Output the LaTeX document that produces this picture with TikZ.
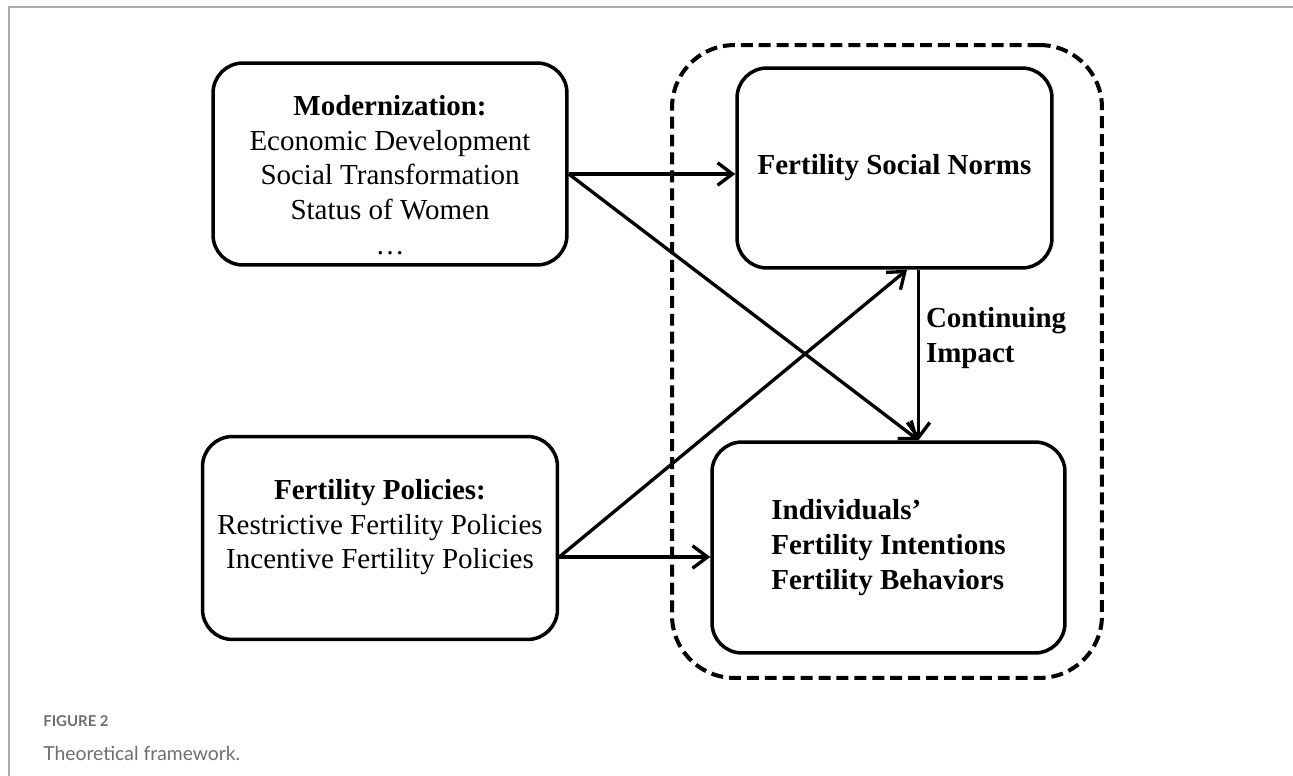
\documentclass[tikz,border=0pt]{standalone}
\usepackage{fontspec}
\setmainfont{Liberation Serif}
\newfontfamily\capfont{Lato}
\usetikzlibrary{arrows.meta}

\definecolor{capgray}{RGB}{110,110,110}
\definecolor{framegray}{RGB}{170,170,170}

\tikzset{
	block/.style = {draw, line width=2pt, rounded corners=0.6cm, align=center, font=\fontsize{16.5}{19.8}\selectfont},
	group/.style = {draw, line width=2.3pt, dash pattern=on 6.8pt off 3.4pt, rounded corners=1.25cm},
	arr/.style = {line width=1.9pt, -{Straight Barb[length=0.3cm, width=0.45cm]}},
}

\begin{document}
\begin{tikzpicture}[x=0.02cm, y=-0.02cm]
		\useasboundingbox (0,0) rectangle (1293,776);
		\draw[framegray, line width=1.2pt] (9,776) -- (9,7) -- (1293,7);

		% boxes
		\node[block, minimum width=7.08cm, minimum height=4.04cm] (modern) at (390,164) {\rule{0pt}{1.45em}\textbf{Modernization:}\\Economic Development\\Social Transformation\\Status of Women\\…};
		\node[block, minimum width=7.1cm, minimum height=4.06cm] (policy) at (380,538) {\textbf{Fertility Policies:}\\Restrictive Fertility Policies\\Incentive Fertility Policies\\[-4pt]\mbox{}};
		\node[block, minimum width=6.3cm, minimum height=4cm] (norms) at (894.5,168) {\textbf{Fertility Social Norms}};
		\node[block, align=left, minimum width=7.06cm, minimum height=4.22cm] (indiv) at (888.5,547.5) {\textbf{Individuals’}\\\textbf{Fertility Intentions}\\\textbf{Fertility Behaviors}};
		\node[group, minimum width=8.6cm, minimum height=12.66cm] (core) at (887,361.5) {};

		% connectors
		\coordinate (modOut) at ([yshift=-0.2cm]modern.east);
		\coordinate (polOut) at ([yshift=-0.38cm]policy.east);
		\coordinate (indTop) at ([xshift=0.6cm]indiv.north);
		\coordinate (normsBot) at ([xshift=0.25cm]norms.south);
		\draw[arr] (modOut) -- (modOut -| norms.west);
		\draw[arr] (modOut) -- (indTop);
		\draw[arr] (indTop |- norms.south) -- (indTop)
			node (impact) [pos=0.4, right, align=left, font=\fontsize{16.5}{19.8}\selectfont\bfseries] {Continuing\\Impact};
		\draw[arr] (polOut) -- (normsBot);
		\draw[arr] (polOut) -- (polOut -| indiv.west);

		% caption
		\node[anchor=base west, inner sep=0, text=capgray, font=\capfont\bfseries\fontsize{8.5}{10}\selectfont] (fignum) at (43,726) {FIGURE 2};
		\node[anchor=base west, inner sep=0, text=capgray, font=\capfont\fontsize{11}{13}\selectfont] (figcap) at (43,760) {Theoretical framework.};
\end{tikzpicture}
\end{document}
